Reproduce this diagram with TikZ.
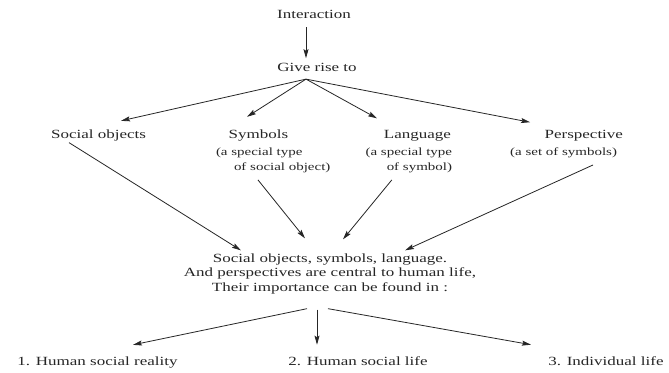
\documentclass[tikz,border=0pt]{standalone}
\usepackage{fontspec}
\setmainfont{Liberation Serif}[FakeStretch=1.36]
\usetikzlibrary{arrows.meta,calc}
\definecolor{ink}{RGB}{38,38,38}
\begin{document}
\begin{tikzpicture}[x=1pt,y=-1pt,
  every node/.style={inner sep=0pt,outer sep=0pt,text=ink},
  txt/.style={font=\fontsize{12.5}{14.5}\selectfont},
  subtxt/.style={font=\fontsize{11}{15}\selectfont},
  arr/.style={draw=ink,line width=0.8pt,-{Stealth[length=9pt,width=5pt,inset=1.5pt]}}]
\fill[white] (0,0) rectangle (669,372);
\useasboundingbox (0,0) rectangle (669,372);
% nodes
\node[txt,anchor=base] (int) at (314,18) {Interaction};
\node[txt,anchor=base] (give) at (317,71) {Give rise to};
\coordinate (fan) at ($(give.south)+(-11,8)$);
\node[txt,anchor=base] (soc) at (98.5,138) {Social objects};
\node[txt,anchor=base] (sym) at (258.5,138) {Symbols};
\node[subtxt,anchor=base west] (sym2) at (216,155) {(a special type};
\node[subtxt,anchor=base west] (sym3) at (234,170) {of social object)};
\node[txt,anchor=base east] (lang) at (451,138) {Language};
\node[subtxt,anchor=base east] (lang2) at (452,155) {(a special type};
\node[subtxt,anchor=base east] (lang3) at (452,170) {of symbol)};
\node[txt,anchor=base east] (persp) at (623,138) {Perspective};
\node[subtxt,anchor=base east] (persp2) at (617,155) {(a set of symbols)};
\node[txt,align=center] (ctr) at (330,273.5) {Social objects, symbols, language.\\And perspectives are central to human life,\\Their importance can be found in :};
\node[txt,anchor=base] (b1) at (97.5,365) {1. Human social reality};
\node[txt,anchor=base] (b2) at (358,365) {2. Human social life};
\node[txt,anchor=base] (b3) at (606,365) {3. Individual life};
% connectors
\draw[arr] ($(int.south)+(-8,9)$) -- ($(give.north)+(-11,-4.5)$);
\draw[arr] (fan) -- ($(soc.north)+(22.5,-8.5)$);
\draw[arr] (fan) -- ($(sym.north)+(-11.5,-12.5)$);
\draw[arr] (fan) -- ($(lang.north)+(-40.5,-11.5)$);
\draw[arr] (fan) -- ($(persp.north)+(-53.8,-7.5)$);
\draw[arr] ($(soc.south west)+(18,2)$) -- ($(ctr.north west)+(57,-3)$);
\draw[arr] ($(sym3.south west)+(24,7.6)$) -- ($(ctr.north)+(-25,-15)$);
\draw[arr] ($(lang3.south west)+(5,7.6)$) -- ($(ctr.north)+(13,-14)$);
\draw[arr] ($(persp2.south east)+(-24,7.6)$) -- ($(ctr.north east)+(-71,-3)$);
\draw[arr] ($(ctr.south)+(-23,15)$) -- ($(b1.north)+(35.5,-11.5)$);
\draw[arr] ($(ctr.south)+(-13,16)$) -- ($(b2.north)+(-41,-11.5)$);
\draw[arr] ($(ctr.south)+(-2,15)$) -- ($(b3.north)+(-75,-11.5)$);
\end{tikzpicture}
\end{document}
